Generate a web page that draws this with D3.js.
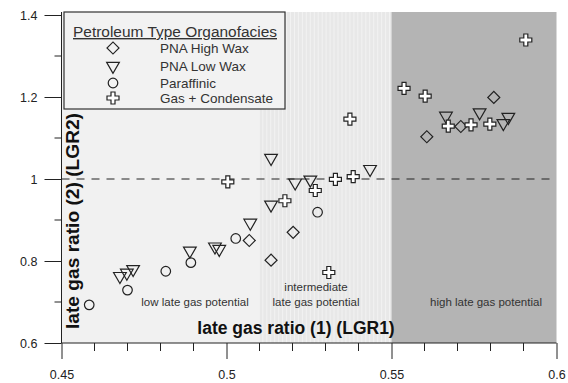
<!DOCTYPE html>
<html>
<head>
<meta charset="utf-8">
<script src="https://cdn.jsdelivr.net/npm/d3@7/dist/d3.min.js"></script>
<style>
  body { margin: 0; background: #fff; }
  svg text { font-family: "Liberation Sans", Arial, sans-serif; }
</style>
</head>
<body>
<svg id="chart" width="568" height="383"></svg>
<script>
// ---- data ----
const highWax = [[0.5069, 0.850], [0.5135, 0.802], [0.5202, 0.870], [0.5607, 1.103], [0.5710, 1.128], [0.5810, 1.199]];
const lowWax = [[0.4677, 0.763], [0.4698, 0.771], [0.4717, 0.780], [0.4889, 0.825], [0.4965, 0.835], [0.4978, 0.829],
  [0.5072, 0.893], [0.5135, 0.937], [0.5135, 1.051], [0.5208, 0.991], [0.5254, 0.998], [0.5435, 1.024],
  [0.5665, 1.154], [0.5767, 1.162], [0.5839, 1.136], [0.5854, 1.151]];
const paraffinic = [[0.4584, 0.693], [0.4700, 0.729], [0.4816, 0.775], [0.4892, 0.796], [0.5028, 0.855], [0.5276, 0.919]];
const gasCond = [[0.5004, 0.993], [0.5177, 0.947], [0.5269, 0.972], [0.5330, 0.999], [0.5384, 1.006], [0.5310, 0.772],
  [0.5374, 1.146], [0.5538, 1.221], [0.5602, 1.202], [0.5672, 1.129], [0.5741, 1.132], [0.5798, 1.134], [0.5907, 1.339]];
const zones = [
  { from: 0.45, to: 0.51, label: ["low late gas potential"], fill: "#f1f1f1" },
  { from: 0.51, to: 0.55, label: ["intermediate", "late gas potential"], fill: "#e8e8e8" },
  { from: 0.55, to: 0.60, label: ["high late gas potential"], fill: "#b4b4b4" }
];
const xTicks = [0.45, 0.5, 0.55, 0.6];
const yTicks = [0.6, 0.8, 1, 1.2, 1.4];
const legendNames = ["PNA High Wax", "PNA Low Wax", "Paraffinic", "Gas + Condensate"];

const svg = d3.select("#chart");
const x = d3.scaleLinear().domain([0.45, 0.6]).range([61.5, 556.5]);
const y = d3.scaleLinear().domain([0.6, 1.4]).range([343, 15]);

// zones
const zg = svg.append("g");
zg.selectAll("rect").data(zones).enter().append("rect")
  .attr("x", d => x(d.from)).attr("width", d => x(d.to) - x(d.from))
  .attr("y", y(1.4) - 3).attr("height", y(0.6) - y(1.4) + 3)
  .attr("fill", d => d.fill);

// light vertical stripes in the intermediate zone
const stripes = d3.range(0.511, 0.55, 0.0012);
zg.selectAll("line.st").data(stripes).enter().append("line")
  .attr("x1", d => x(d)).attr("x2", d => x(d))
  .attr("y1", y(1.4) - 3).attr("y2", y(0.6))
  .attr("stroke", "#f2f2f2").attr("stroke-width", 1);

const labelX = [195, 316, 486];
zones.forEach((z, i) => {
  const t = svg.append("text").attr("text-anchor", "middle").attr("font-size", 11.5).attr("fill", "#333");
  z.label.forEach((s, k) => {
    t.append("tspan").attr("x", labelX[i]).attr("y", 306 - (z.label.length - 1 - k) * 15).text(s);
  });
});

// reference line at LGR2 = 1
svg.append("line")
  .attr("x1", x(0.45)).attr("x2", x(0.6)).attr("y1", y(1)).attr("y2", y(1))
  .attr("stroke", "#222").attr("stroke-width", 1).attr("stroke-dasharray", "8,7");

// axes
const xAxis = svg.append("g").attr("transform", `translate(0,${y(0.6)})`)
  .call(d3.axisBottom(x).tickValues(xTicks).tickSize(16).tickPadding(11).tickFormat(d3.format("")));
xAxis.append("g").selectAll("line").data(d3.range(0.46, 0.6, 0.01).filter(v => Math.abs(v * 20 - Math.round(v * 20)) > 0.01))
  .enter().append("line").attr("x1", d => x(d)).attr("x2", d => x(d)).attr("y1", 0).attr("y2", 8).attr("stroke", "#222");

const yAxis = svg.append("g").attr("transform", `translate(${x(0.45)},0)`)
  .call(d3.axisLeft(y).tickValues(yTicks).tickSize(17).tickPadding(7).tickFormat(d3.format("")));
yAxis.append("g").selectAll("line").data([0.7, 0.9, 1.1, 1.3])
  .enter().append("line").attr("x1", -7).attr("x2", 0).attr("y1", d => y(d)).attr("y2", d => y(d)).attr("stroke", "#222");

[xAxis, yAxis].forEach(a => {
  a.select(".domain").attr("stroke", "#222");
  a.selectAll(".tick line").attr("stroke", "#222");
  a.selectAll(".tick text").attr("font-size", 12.5).attr("fill", "#222")
    .attr("font-family", "Liberation Sans, Arial, sans-serif");
});
yAxis.select(".domain").attr("d", `M0,${y(0.6)}V${y(1.4) - 3}`);
xAxis.select(".domain").attr("d", `M${x(0.45)},0H${x(0.6)}`);

// axis titles
svg.append("text").attr("x", 296).attr("y", 334).attr("text-anchor", "middle")
  .attr("font-size", 17.5).attr("font-weight", "bold").attr("fill", "#111")
  .text("late gas ratio (1) (LGR1)");
svg.append("text").attr("transform", `translate(79,221) rotate(-90)`).attr("text-anchor", "middle")
  .attr("font-size", 19).attr("font-weight", "bold").attr("fill", "#111")
  .attr("textLength", 216).attr("lengthAdjust", "spacingAndGlyphs")
  .text("late gas ratio (2) (LGR2)");

// markers
const shapes = [
  { data: highWax, type: d3.symbolSquare, size: 72, rot: 45, fill: "none" },
  { data: lowWax, type: d3.symbolTriangle, size: 70, rot: 180, fill: "none" },
  { data: paraffinic, type: d3.symbolCircle, size: 72, rot: 0, fill: "none" },
  { data: gasCond, type: d3.symbolCross, size: 80, rot: 0, fill: "#fff" }
];
shapes.forEach(s => {
  svg.append("g").selectAll("path").data(s.data).enter().append("path")
    .attr("d", d3.symbol().type(s.type).size(s.size))
    .attr("transform", d => `translate(${x(d[0])},${y(d[1])}) rotate(${s.rot})`)
    .attr("fill", s.fill).attr("stroke", "#222").attr("stroke-width", 1.2);
});

// legend
const lg = svg.append("g").attr("transform", "translate(64,12)");
lg.append("rect").attr("width", 221).attr("height", 97)
  .attr("fill", "#f2f2f2").attr("stroke", "#333").attr("stroke-width", 1.2);
lg.append("text").attr("x", 9).attr("y", 25).attr("font-size", 14).attr("fill", "#333")
  .attr("font-family", "DejaVu Sans, Verdana, sans-serif").attr("text-decoration", "underline")
  .attr("textLength", 204).attr("lengthAdjust", "spacingAndGlyphs")
  .text("Petroleum Type Organofacies");
const rowY = [36, 54, 71, 86];
legendNames.forEach((n, i) => {
  const s = shapes[i];
  lg.append("path").attr("d", d3.symbol().type(s.type).size(s.size))
    .attr("transform", `translate(49,${rowY[i]}) rotate(${s.rot})`)
    .attr("fill", s.fill).attr("stroke", "#222").attr("stroke-width", 1.2);
  lg.append("text").attr("x", 96).attr("y", rowY[i] + 5).attr("font-size", 13.5).attr("fill", "#333")
    .attr("font-family", "DejaVu Sans, Verdana, sans-serif").text(n);
});
</script>
</body>
</html>
